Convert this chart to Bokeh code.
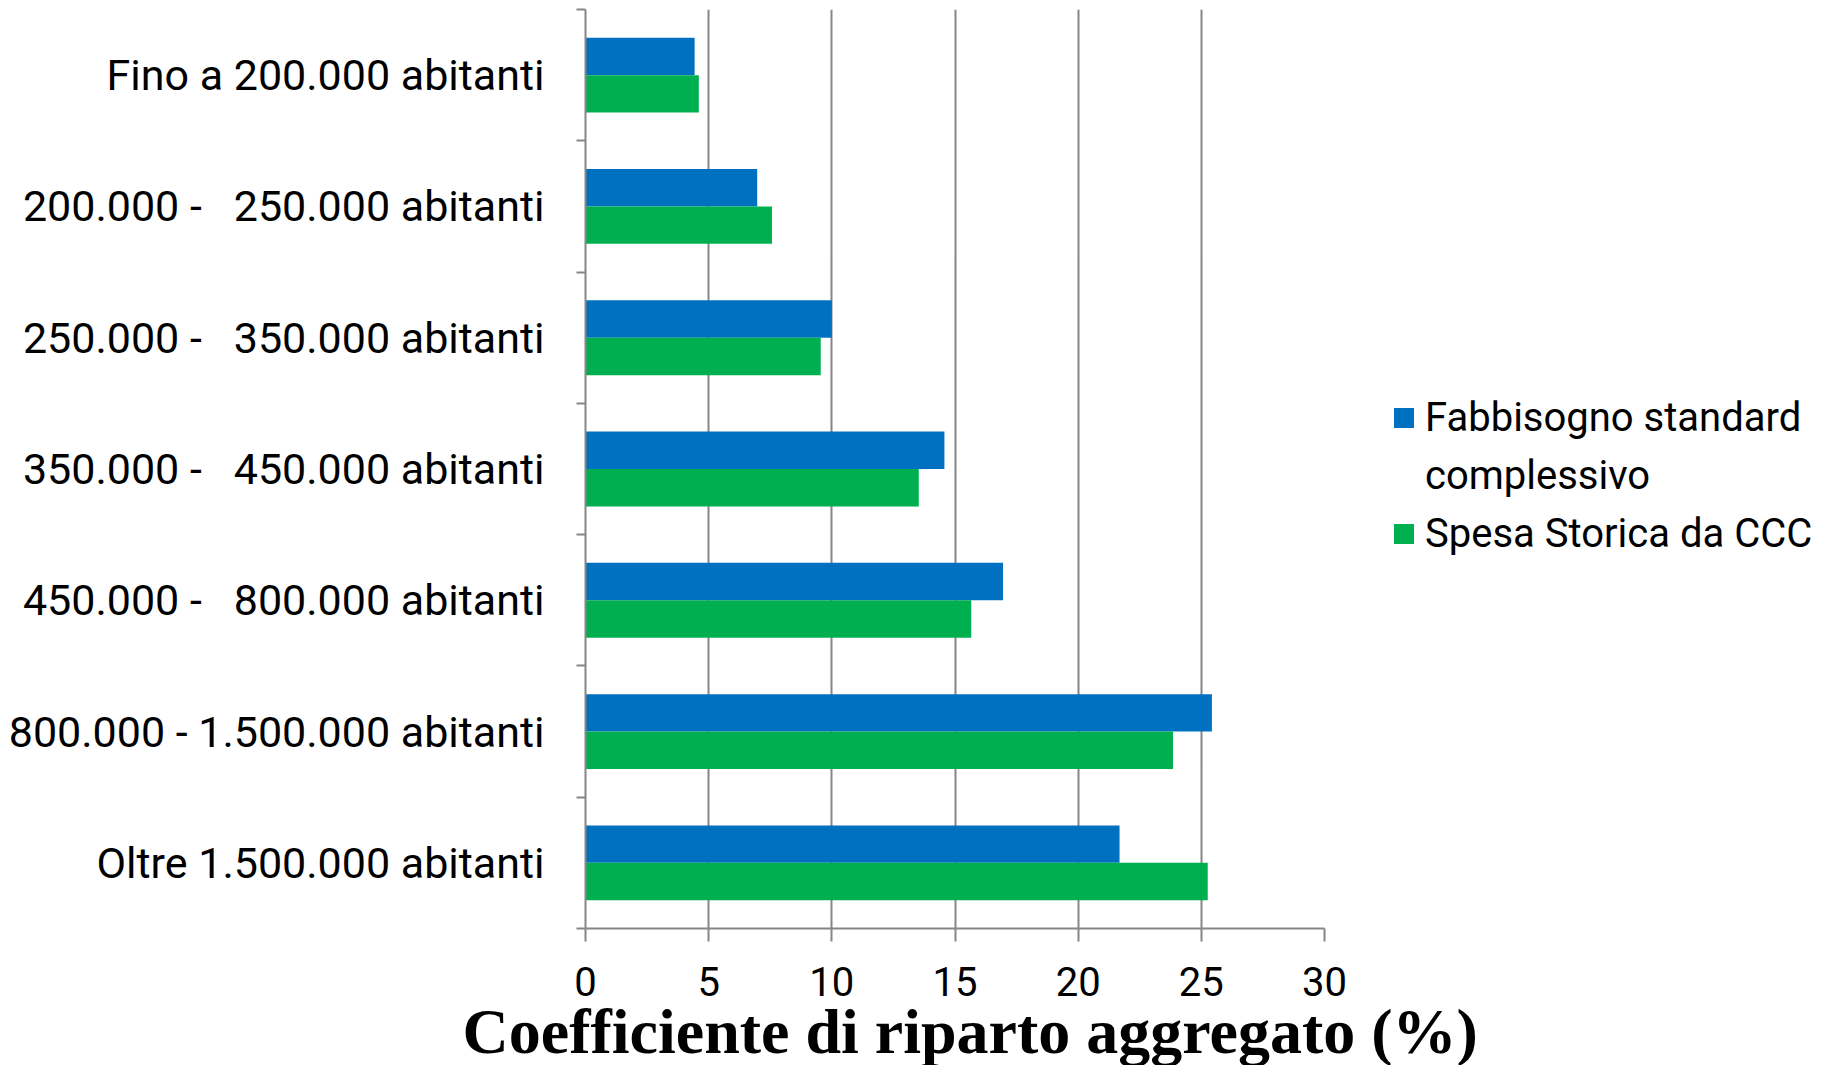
from bokeh.plotting import figure
from bokeh.models import Range1d, FixedTicker, Legend, LegendItem, ColumnDataSource, Title
from bokeh.embed import file_html
from bokeh.resources import INLINE

# ---- data (top category first) ----
categories = [
    "Fino a 200.000 abitanti",
    "200.000 -\u00a0\u00a0\u00a0250.000 abitanti",
    "250.000 -\u00a0\u00a0\u00a0350.000 abitanti",
    "350.000 -\u00a0\u00a0\u00a0450.000 abitanti",
    "450.000 -\u00a0\u00a0\u00a0800.000 abitanti",
    "800.000 - 1.500.000 abitanti",
    "Oltre 1.500.000 abitanti",
]
fabbisogno = [4.43, 6.97, 10.0, 14.57, 16.95, 25.43, 21.68]
spesa = [4.6, 7.57, 9.55, 13.53, 15.66, 23.85, 25.26]
x_ticks = [0, 5, 10, 15, 20, 25, 30]
x_title = "Coefficiente di riparto aggregato (%)"
series_names = ["Fabbisogno standard", "complessivo", "Spesa Storica da CCC"]
series_colors = ["#0070C0", "#00B050"]

n = len(categories)
centers = [n - i - 0.5 for i in range(n)]
bar_h = 0.285
off = bar_h / 2

src = ColumnDataSource(dict(
    cat=categories,
    y_f=[c + off for c in centers],
    y_s=[c - off for c in centers],
    fab=fabbisogno,
    spe=spesa,
))

LABEL_FONT = "Roboto"
GRID = "#868686"

p = figure(
    frame_width=739, frame_height=919,
    x_range=Range1d(0, 30), y_range=Range1d(0, n),
    output_backend="svg", toolbar_location=None,
    min_border_left=585, min_border_right=486,
    min_border_top=9, min_border_bottom=132,
    background_fill_color="white", border_fill_color="white",
)
p.outline_line_color = None

r1 = p.hbar(y="y_f", right="fab", left=0, height=bar_h, source=src,
            fill_color=series_colors[0], line_color=None)
r2 = p.hbar(y="y_s", right="spe", left=0, height=bar_h, source=src,
            fill_color=series_colors[1], line_color=None)
# empty, invisible renderer: carries the second line of the first legend entry
r_blank = p.hbar(y=[], right=[], left=0, height=bar_h,
                 fill_alpha=0, line_alpha=0)

# x axis
xa = p.xaxis[0]
xa.ticker = FixedTicker(ticks=x_ticks, minor_ticks=[])
xa.axis_line_color = GRID
xa.axis_line_width = 2
xa.major_tick_line_color = GRID
xa.major_tick_line_width = 2
xa.major_tick_out = 13
xa.major_tick_in = 0
xa.minor_tick_line_color = None
xa.major_label_text_font = LABEL_FONT
xa.major_label_text_font_size = "40px"
xa.major_label_text_color = "black"
xa.major_label_standoff = 25

# axis title, set slightly right of the frame centre as in the original
p.add_layout(Title(
    text=x_title, align="left", offset=-123, vertical_align="top",
    standoff=-6, text_font="Liberation Serif", text_font_style="bold",
    text_font_size="64px", text_color="black",
), "below")

# y axis: labels at band centres, tick marks at band boundaries
ya = p.yaxis[0]
ya.ticker = FixedTicker(ticks=centers, minor_ticks=list(range(n + 1)))
ya.major_label_overrides = {c: lab for c, lab in zip(centers, categories)}
ya.axis_line_color = GRID
ya.axis_line_width = 2
ya.major_tick_line_color = None
ya.major_tick_out = 0
ya.major_tick_in = 0
ya.minor_tick_line_color = GRID
ya.minor_tick_line_width = 2
ya.minor_tick_out = 9
ya.minor_tick_in = 0
ya.major_label_text_font = LABEL_FONT
ya.major_label_text_font_size = "43px"
ya.major_label_text_color = "black"
ya.major_label_standoff = 32

p.xgrid.ticker = FixedTicker(ticks=x_ticks[1:])
p.xgrid.grid_line_color = GRID
p.xgrid.grid_line_width = 2
p.ygrid.grid_line_color = None

legend = Legend(
    items=[LegendItem(label=series_names[0], renderers=[r1]),
           LegendItem(label=series_names[1], renderers=[r_blank]),
           LegendItem(label=series_names[2], renderers=[r2])],
    location=(67, 371),
    orientation="vertical",
    border_line_color=None,
    background_fill_alpha=0,
    padding=0, margin=0, spacing=11,
    glyph_width=25, glyph_height=25,
    label_standoff=9,
    label_text_font=LABEL_FONT,
    label_text_font_size="40px",
    label_text_color="black",
)
p.add_layout(legend, "right")

open("out.html", "w").write(file_html(p, INLINE))
